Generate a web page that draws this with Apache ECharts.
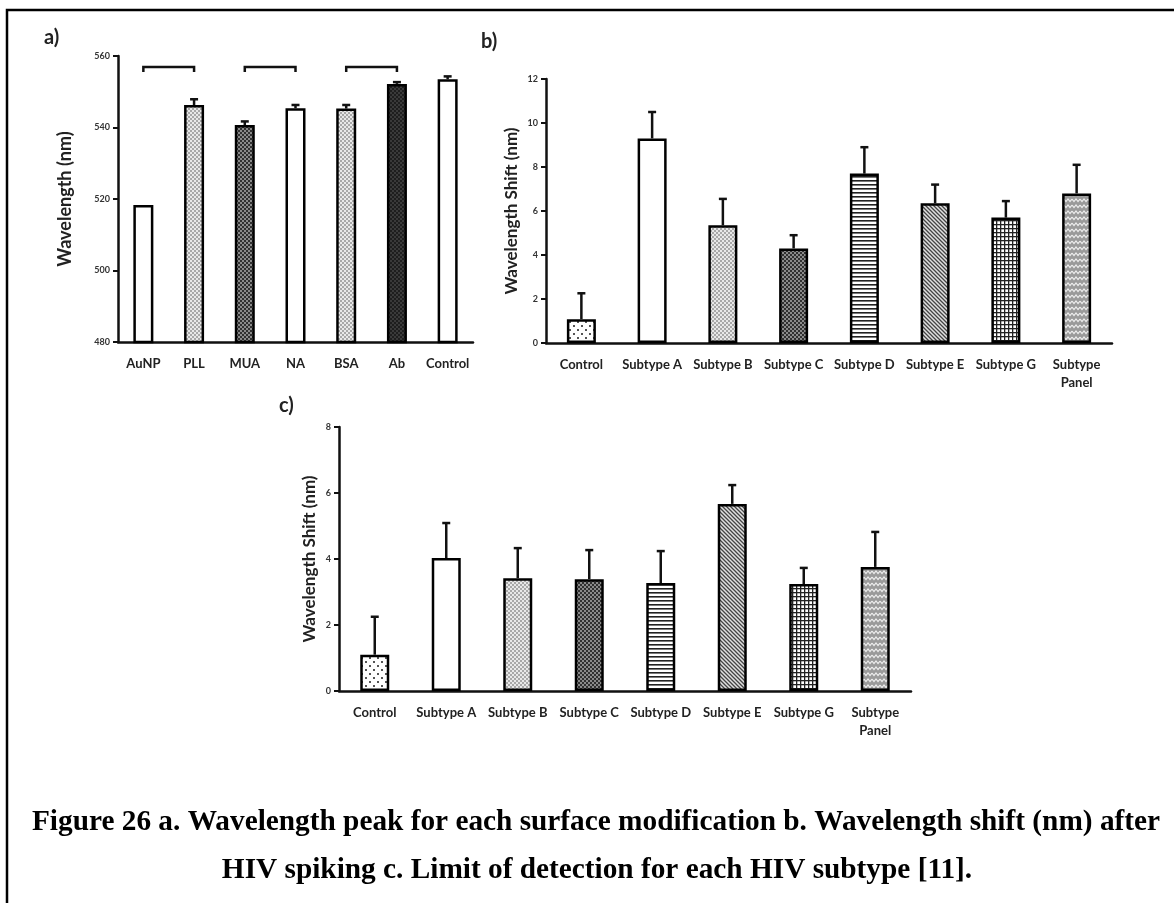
<!DOCTYPE html>
<html><head><meta charset="utf-8">
<script src="https://cdn.jsdelivr.net/npm/echarts@6/dist/echarts.min.js"></script>
<style>html,body{margin:0;padding:0;background:#fff}#c{width:1174px;height:903px}</style>
</head><body><div id="c"></div>
<script>
// ---------- DATA ----------
const catsA = ['AuNP','PLL','MUA','NA','BSA','Ab','Control'];
const valsA = [518.3, 546.3, 540.7, 545.4, 545.3, 552.2, 553.5];
const errA  = [0, 1.6, 1.0, 0.9, 1.0, 0.5, 0.8];
const pattA = ['white','light','dark','white','light','black','white'];
const bracketsA = [[0,1],[2,3],[4,5]];
const bracketLevelA = [556.9, 555.5];
const ticksA = [480, 560, 20];

const catsB = ['Control','Subtype A','Subtype B','Subtype C','Subtype D','Subtype E','Subtype G','Subtype\nPanel'];
const valsB = [1.08, 9.3, 5.35, 4.3, 7.7, 6.35, 5.7, 6.8];
const errB  = [1.18, 1.2, 1.2, 0.6, 1.2, 0.85, 0.75, 1.3];
const ticksB = [0, 12, 2];

const catsC = ['Control','Subtype A','Subtype B','Subtype C','Subtype D','Subtype E','Subtype G','Subtype\nPanel'];
const valsC = [1.1, 4.03, 3.42, 3.39, 3.27, 5.67, 3.24, 3.76];
const errC  = [1.15, 1.06, 0.91, 0.88, 0.97, 0.57, 0.49, 1.06];
const ticksC = [0, 8, 2];

const pattBC = ['dots','white','light','dark','hlines','diag','grid','zigzag'];

const caption1 = 'Figure 26 a. Wavelength peak for each surface modification b. Wavelength shift (nm) after';
const caption2 = 'HIV spiking c. Limit of detection for each HIV subtype [11].';

// ---------- PATTERNS ----------
function mk(w,h,draw){const c=document.createElement('canvas');c.width=w;c.height=h;const g=c.getContext('2d');draw(g,w,h);return c;}
const patterns = {
  white: '#ffffff',
  light: {image: mk(4,4,(g)=>{g.fillStyle='#e8e8e8';g.fillRect(0,0,4,4);g.fillStyle='#a8a8a8';g.fillRect(0,0,2,2);g.fillRect(2,2,2,2);}), repeat:'repeat'},
  dark: {image: mk(4,4,(g)=>{g.fillStyle='#8a8a8a';g.fillRect(0,0,4,4);g.fillStyle='#303030';g.fillRect(0,0,2,2);g.fillRect(2,2,2,2);}), repeat:'repeat'},
  black: {image: mk(4,4,(g)=>{g.fillStyle='#3a3a3a';g.fillRect(0,0,4,4);g.fillStyle='#1e1e1e';g.fillRect(0,0,2,2);g.fillRect(2,2,2,2);}), repeat:'repeat'},
  dots: {image: mk(8,8,(g)=>{g.fillStyle='#ffffff';g.fillRect(0,0,8,8);g.fillStyle='#555';g.fillRect(1,1,2,2);g.fillRect(5,5,2,2);}), repeat:'repeat'},
  hlines: {image: mk(4,4,(g)=>{g.fillStyle='#ffffff';g.fillRect(0,0,4,4);g.fillStyle='#222';g.fillRect(0,0,4,1.6);}), repeat:'repeat'},
  diag: {image: mk(4,4,(g)=>{g.fillStyle='#e0e0e0';g.fillRect(0,0,4,4);g.strokeStyle='#444';g.lineWidth=1.3;g.beginPath();g.moveTo(-1,-1);g.lineTo(5,5);g.moveTo(-1,3);g.lineTo(1,5);g.moveTo(3,-1);g.lineTo(5,1);g.stroke();}), repeat:'repeat'},
  grid: {image: mk(4,4,(g)=>{g.fillStyle='#ffffff';g.fillRect(0,0,4,4);g.fillStyle='#222';g.fillRect(0,0,4,1.3);g.fillRect(0,0,1.3,4);}), repeat:'repeat'},
  zigzag: {image: mk(8,6,(g)=>{g.fillStyle='#9a9a9a';g.fillRect(0,0,8,6);g.strokeStyle='#eeeeee';g.lineWidth=1.2;g.beginPath();g.moveTo(0,1);g.lineTo(2,3.5);g.lineTo(4,1);g.lineTo(6,3.5);g.lineTo(8,1);g.stroke();}), repeat:'repeat'}
};

// ---------- HELPERS ----------
const F = 'Lato, "Open Sans", sans-serif';
function barSeries(idx, vals, patt, bw){
  return {type:'bar', xAxisIndex:idx, yAxisIndex:idx, barWidth:bw, z:2,
    data: vals.map((v,i)=>({value:v, itemStyle:{color:patterns[patt[i]], borderColor:'#000', borderWidth:2.5}})),
    animation:false};
}
function errSeries(idx, vals, errs){
  return {type:'custom', xAxisIndex:idx, yAxisIndex:idx, z:1, animation:false,
    data: vals.map((v,i)=>[i, v, errs[i]]),
    renderItem:(params, api)=>{
      const e = api.value(2); if(!e) return null;
      const p0 = api.coord([api.value(0), api.value(1)]);
      const p1 = api.coord([api.value(0), api.value(1)+e]);
      return {type:'group', children:[
        {type:'line', shape:{x1:p0[0],y1:p0[1],x2:p1[0],y2:p1[1]}, style:{stroke:'#111',lineWidth:2.5}},
        {type:'line', shape:{x1:p1[0]-4,y1:p1[1],x2:p1[0]+4,y2:p1[1]}, style:{stroke:'#111',lineWidth:2.5}}
      ]};
    }};
}
function xAx(idx, cats){
  return {type:'category', gridIndex:idx, data:cats,
    axisLine:{lineStyle:{color:'#111', width:2.5}},
    axisTick:{length:5, lineStyle:{color:'#111', width:2}},
    axisLabel:{interval:0, color:'#222', fontFamily:F, fontWeight:'bold', fontSize:13, margin:13, lineHeight:18}};
}
function yAx(idx, t, name, gap, nfs){
  return {type:'value', gridIndex:idx, min:t[0], max:t[1], interval:t[2],
    name:name, nameLocation:'middle', nameGap:gap,
    nameTextStyle:{fontFamily:F, fontWeight:'bold', fontSize:nfs, color:'#222'},
    axisLine:{show:true, lineStyle:{color:'#111', width:2.5}},
    axisTick:{show:true, length:5, lineStyle:{color:'#111', width:2}},
    axisLabel:{color:'#333', fontFamily:F, fontWeight:'bold', fontSize:9, margin:8},
    splitLine:{show:false}};
}

// caption font size fitted to line width
const mctx = document.createElement('canvas').getContext('2d');
mctx.font = 'bold 100px "Liberation Serif"';
const capFS = Math.round(100*1129/mctx.measureText(caption1).width*10)/10;

const chart = echarts.init(document.getElementById('c'), null, {renderer:'canvas'});
chart.setOption({
  backgroundColor:'#fff',
  animation:false,
  grid:[
    {left:118, top:56, width:355, height:286},
    {left:546, top:79, width:566, height:264},
    {left:339, top:427, width:572, height:264}
  ],
  xAxis:[xAx(0,catsA), xAx(1,catsB), xAx(2,catsC)],
  yAxis:[yAx(0,ticksA,'Wavelength (nm)',44,18), yAx(1,ticksB,'Wavelength Shift (nm)',26,17), yAx(2,ticksC,'Wavelength Shift (nm)',21,17)],
  series:[
    barSeries(0, valsA, pattA, 20),
    errSeries(0, valsA, errA),
    {type:'custom', xAxisIndex:0, yAxisIndex:0, z:3, animation:false,
      data: bracketsA,
      renderItem:(params, api)=>{
        const a = api.coord([api.value(0), bracketLevelA[0]]);
        const b = api.coord([api.value(1), bracketLevelA[0]]);
        const yl = api.coord([api.value(0), bracketLevelA[1]])[1];
        return {type:'polyline', shape:{points:[[a[0],yl],[a[0],a[1]],[b[0],b[1]],[b[0],yl]]}, style:{stroke:'#111', lineWidth:2.5, fill:null}};
      }},
    barSeries(1, valsB, pattBC, 29),
    errSeries(1, valsB, errB),
    barSeries(2, valsC, pattBC, 29),
    errSeries(2, valsC, errC)
  ],
  graphic:[
    {type:'rect', shape:{x:7, y:10, width:1200, height:1000}, style:{fill:null, stroke:'#000', lineWidth:2.5}, silent:true},
    {type:'text', x:44, y:28, style:{text:'a)', fontFamily:F, fontWeight:'bold', fontSize:20, fill:'#222'}},
    {type:'text', x:481, y:32, style:{text:'b)', fontFamily:F, fontWeight:'bold', fontSize:20, fill:'#222'}},
    {type:'text', x:279, y:396, style:{text:'c)', fontFamily:F, fontWeight:'bold', fontSize:20, fill:'#222'}},
    {type:'text', x:596, y:822, style:{text:caption1, fontFamily:'"Liberation Serif", "Times New Roman", serif', fontWeight:'bold', fontSize:capFS, fill:'#000', align:'center', verticalAlign:'middle'}},
    {type:'text', x:597, y:870, style:{text:caption2, fontFamily:'"Liberation Serif", "Times New Roman", serif', fontWeight:'bold', fontSize:capFS, fill:'#000', align:'center', verticalAlign:'middle'}}
  ]
});
</script></body></html>
